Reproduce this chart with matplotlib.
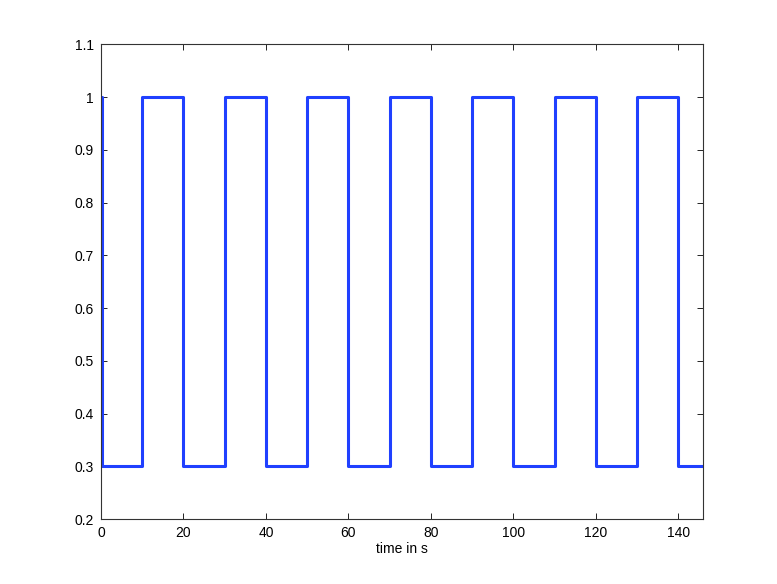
import matplotlib
matplotlib.use('Agg')
import matplotlib.pyplot as plt

# switching times (s) and level held from each time on
t_switch = [0, 0.3, 10, 20, 30, 40, 50, 60, 70, 80, 90, 100, 110, 120, 130, 140, 146]
level = [1.0, 0.3, 1.0, 0.3, 1.0, 0.3, 1.0, 0.3, 1.0, 0.3, 1.0, 0.3, 1.0, 0.3, 1.0, 0.3, 0.3]

xticks = [0, 20, 40, 60, 80, 100, 120, 140]
yticks = [0.2, 0.3, 0.4, 0.5, 0.6, 0.7, 0.8, 0.9, 1, 1.1]
ytick_labels = ['0.2', '0.3', '0.4', '0.5', '0.6', '0.7', '0.8', '0.9', '1', '1.1']

plt.rcParams['font.family'] = ['Liberation Sans', 'DejaVu Sans']

fig = plt.figure(figsize=(7.77, 5.84), dpi=100)
ax = fig.add_axes([0.13, 0.111, 0.775, 0.813])
ax.step(t_switch, level, where='post', color='#2040ff', linewidth=2.2)

ax.set_xlim(0, 146)
ax.set_ylim(0.2, 1.1)
ax.set_xticks(xticks)
ax.set_yticks(yticks)
ax.set_yticklabels(ytick_labels)
ax.tick_params(direction='in', top=True, right=True, length=4, width=0.6, labelsize=10, pad=5)
for s in ax.spines.values():
    s.set_linewidth(0.8)
    s.set_color('#333333')
ax.set_xlabel('time in s', fontsize=10, labelpad=1)

fig.savefig('out.png', dpi=100)
